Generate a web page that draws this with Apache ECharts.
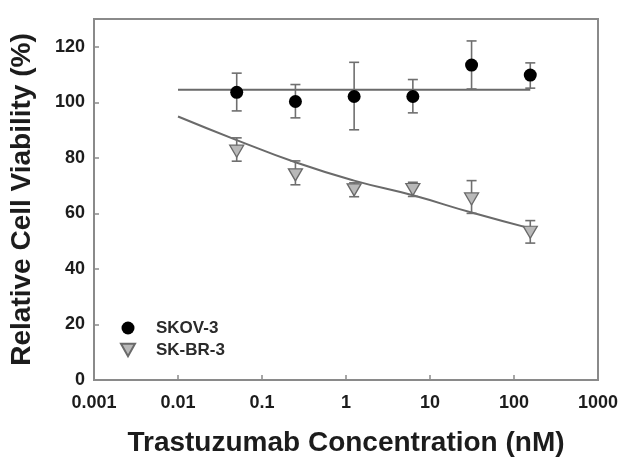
<!DOCTYPE html>
<html>
<head>
<meta charset="utf-8">
<script src="https://cdn.jsdelivr.net/npm/echarts@6/dist/echarts.min.js"></script>
<style>
  * { margin: 0; padding: 0; }
  body { background: #fff; }
  #chart { width: 624px; height: 459px; }
</style>
</head>
<body>
<div id="chart"></div>
<script>
  // concentrations (nM), 5-fold dilution
  var conc = [0.05, 0.25, 1.25, 6.25, 31.25, 156.25];

  // SKOV-3 viability (%) with error bar ends
  var skovMean = [103.6, 100.3, 102.1, 102.1, 113.4, 109.8];
  var skovLow  = [96.9, 94.4, 90.1, 96.2, 104.8, 105.1];
  var skovHigh = [110.5, 106.4, 114.4, 108.2, 122.1, 114.2];

  // SK-BR-3 viability (%) with error bar ends
  var skbrMean = [82.4, 73.9, 68.5, 68.6, 65.2, 53.2];
  var skbrLow  = [78.8, 70.3, 66.0, 66.1, 60.0, 49.3];
  var skbrHigh = [87.2, 78.9, 71.0, 71.2, 71.8, 57.4];

  // fitted curves
  var fitX    = [0.01, 0.05, 0.25, 1.25, 6.25, 31.25, 156.25];
  var skovFit = [104.5, 104.5, 104.5, 104.5, 104.5, 104.5, 104.5];
  var skbrFit = [94.9, 86.4, 78.4, 71.8, 66.5, 60.3, 54.6];

  var xTickLabels = ['0.001', '0.01', '0.1', '1', '10', '100', '1000'];

  function pairs(xs, ys) {
    return xs.map(function (x, i) { return [x, ys[i]]; });
  }
  function bars(xs, lo, hi) {
    return xs.map(function (x, i) { return [x, lo[i], hi[i]]; });
  }

  var barColor = '#6f6f6f';
  function errorBar(params, api) {
    var x = api.value(0);
    var top = api.coord([x, api.value(2)]);
    var bot = api.coord([x, api.value(1)]);
    var w = 5;
    var style = { stroke: barColor, lineWidth: 1.6 };
    return {
      type: 'group',
      children: [
        { type: 'line', shape: { x1: top[0], y1: top[1], x2: bot[0], y2: bot[1] }, style: style },
        { type: 'line', shape: { x1: top[0] - w, y1: top[1], x2: top[0] + w, y2: top[1] }, style: style },
        { type: 'line', shape: { x1: bot[0] - w, y1: bot[1], x2: bot[0] + w, y2: bot[1] }, style: style }
      ]
    };
  }

  var textColor = '#1c1c1c';
  var axisColor = '#8a8a8a';
  var triangle = 'path://M0,0L10,0L5,9Z';

  var chart = echarts.init(document.getElementById('chart'));
  chart.setOption({
    animation: false,
    grid: {
      left: 94, right: 26, top: 19, bottom: 79,
      outerBoundsMode: 'none', containLabel: false,
      show: true, borderColor: axisColor, borderWidth: 2
    },
    legend: {
      data: ['SKOV-3', 'SK-BR-3'],
      orient: 'vertical',
      left: 115, top: 312,
      itemWidth: 14, itemHeight: 13, itemGap: 0,
      textStyle: {
        color: '#2a2a2a', fontSize: 17, fontWeight: 'bold',
        fontFamily: 'Liberation Sans', lineHeight: 22, padding: [0, 0, 0, 16]
      }
    },
    xAxis: {
      type: 'log', logBase: 10, min: 0.001, max: 1000,
      name: 'Trastuzumab Concentration (nM)',
      nameLocation: 'middle', nameGap: 49,
      nameTextStyle: { color: textColor, fontSize: 28, fontWeight: 'bold', fontFamily: 'Liberation Sans' },
      axisLine: { lineStyle: { color: axisColor, width: 2 } },
      axisTick: { inside: true, length: 5, lineStyle: { color: axisColor, width: 1.5 } },
      minorTick: { show: false },
      splitLine: { show: false },
      axisLabel: {
        color: textColor, fontSize: 18, fontWeight: 'bold', fontFamily: 'Liberation Sans', margin: 14,
        formatter: function (v) { return xTickLabels[Math.round(Math.log10(v)) + 3]; }
      }
    },
    yAxis: {
      type: 'value', min: 0, max: 130, interval: 20,
      name: 'Relative Cell Viability (%)',
      nameLocation: 'middle', nameGap: 58,
      nameTextStyle: { color: textColor, fontSize: 28, fontWeight: 'bold', fontFamily: 'Liberation Sans' },
      axisLine: { show: true, lineStyle: { color: axisColor, width: 2 } },
      axisTick: { show: true, inside: true, length: 5, lineStyle: { color: axisColor, width: 1.5 } },
      splitLine: { show: false },
      axisLabel: {
        color: textColor, fontSize: 18, fontWeight: 'bold', fontFamily: 'Liberation Sans', margin: 9,
        showMaxLabel: false
      }
    },
    series: [
      {
        name: 'SKOV-3 fit', type: 'line', data: pairs(fitX, skovFit),
        showSymbol: false, lineStyle: { color: '#6a6a6a', width: 2 }, z: 1
      },
      {
        name: 'SK-BR-3 fit', type: 'line', data: pairs(fitX, skbrFit), smooth: true,
        showSymbol: false, lineStyle: { color: '#6a6a6a', width: 2 }, z: 1
      },
      {
        name: 'SKOV-3 err', type: 'custom', renderItem: errorBar,
        data: bars(conc, skovLow, skovHigh), encode: { x: 0, y: [1, 2] }, z: 2
      },
      {
        name: 'SK-BR-3 err', type: 'custom', renderItem: errorBar,
        data: bars(conc, skbrLow, skbrHigh), encode: { x: 0, y: [1, 2] }, z: 2
      },
      {
        name: 'SKOV-3', type: 'scatter', data: pairs(conc, skovMean),
        symbol: 'circle', symbolSize: 13,
        itemStyle: { color: '#000', opacity: 1 }, z: 3
      },
      {
        name: 'SK-BR-3', type: 'scatter', data: pairs(conc, skbrMean),
        symbol: triangle, symbolSize: [14, 12],
        itemStyle: { color: '#b9b9b9', borderColor: '#6a6a6a', borderWidth: 1.3, opacity: 1 }, z: 3
      }
    ]
  });
</script>
</body>
</html>
